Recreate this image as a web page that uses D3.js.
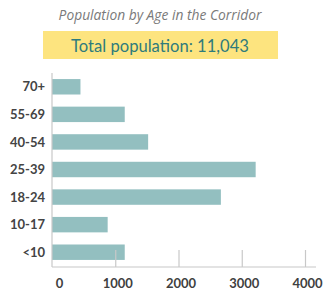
<!DOCTYPE html>
<html>
<head>
<meta charset="utf-8">
<script src="https://cdn.jsdelivr.net/npm/d3@7"></script>
<style>
  body { margin: 0; background: #fff; }
</style>
</head>
<body>
<div id="chart"></div>
<script>
var ageGroups = ['70+', '55-69', '40-54', '25-39', '18-24', '10-17', '<10'];
var population = [450, 1150, 1520, 3220, 2670, 880, 1150];
var xTicks = [0, 1000, 2000, 3000, 4000];
var totalLabel = 'Total population: 11,043';

var w = 327, h = 297;

var svg = d3.select('#chart').append('svg')
  .attr('width', w)
  .attr('height', h)
  .style('font-family', 'Lato, sans-serif');

svg.append('text')
  .attr('x', 160)
  .attr('y', 20)
  .attr('text-anchor', 'middle')
  .style('font-family', '"Open Sans", sans-serif')
  .style('font-style', 'italic')
  .style('font-size', '13.8px')
  .attr('fill', '#7a7a7a')
  .text('Population by Age in the Corridor');

svg.append('rect')
  .attr('x', 43)
  .attr('y', 31)
  .attr('width', 235)
  .attr('height', 28)
  .attr('fill', '#fde47f');

svg.append('text')
  .attr('x', 160)
  .attr('y', 51.5)
  .attr('text-anchor', 'middle')
  .style('font-size', '16.6px')
  .attr('fill', '#2f7b7c')
  .text(totalLabel);

var x = d3.scaleLinear().domain([0, 4000]).range([52, 305]);
var y = d3.scaleBand().domain(ageGroups).range([73, 266]).paddingInner(0.44).paddingOuter(0.22);

// bars
svg.selectAll('rect.bar')
  .data(ageGroups)
  .enter()
  .append('rect')
  .attr('class', 'bar')
  .attr('x', x(0))
  .attr('y', function(d) { return y(d); })
  .attr('width', function(d, i) { return x(population[i]) - x(0); })
  .attr('height', y.bandwidth())
  .attr('fill', '#93bfc0');

// category labels
svg.selectAll('text.cat')
  .data(ageGroups)
  .enter()
  .append('text')
  .attr('class', 'cat')
  .attr('x', 45)
  .attr('y', function(d) { return y(d) + y.bandwidth() / 2; })
  .attr('dy', '0.36em')
  .attr('text-anchor', 'end')
  .style('font-weight', 'bold')
  .style('font-size', '13px')
  .attr('fill', '#444')
  .text(function(d) { return d; });

// y axis line
svg.append('line')
  .attr('x1', 52).attr('x2', 52)
  .attr('y1', 73).attr('y2', 267)
  .attr('stroke', '#c8c8c8')
  .attr('stroke-width', 1.2);

// x axis
var xAxis = svg.append('g')
  .attr('transform', 'translate(0,267)')
  .call(d3.axisBottom(x).tickValues(xTicks).tickSize(0).tickPadding(12).tickFormat(d3.format('d')));

xAxis.attr('font-family', null).attr('font-size', null);
xAxis.select('.domain').remove();
xAxis.append('line')
  .attr('x1', 52).attr('x2', 316)
  .attr('stroke', '#c8c8c8')
  .attr('stroke-width', 1.2);
xAxis.selectAll('.tick')
  .filter(function(d) { return d > 0; })
  .append('line')
  .attr('y1', 0).attr('y2', -17)
  .attr('stroke', '#c8c8c8')
  .attr('stroke-width', 1.2);
xAxis.selectAll('.tick text')
  .style('font-weight', 'bold')
  .style('font-size', '13px')
  .attr('fill', '#3f3f3f')
  .attr('dx', function(d) { return d === 0 ? 7 : 2; });
</script>
</body>
</html>
